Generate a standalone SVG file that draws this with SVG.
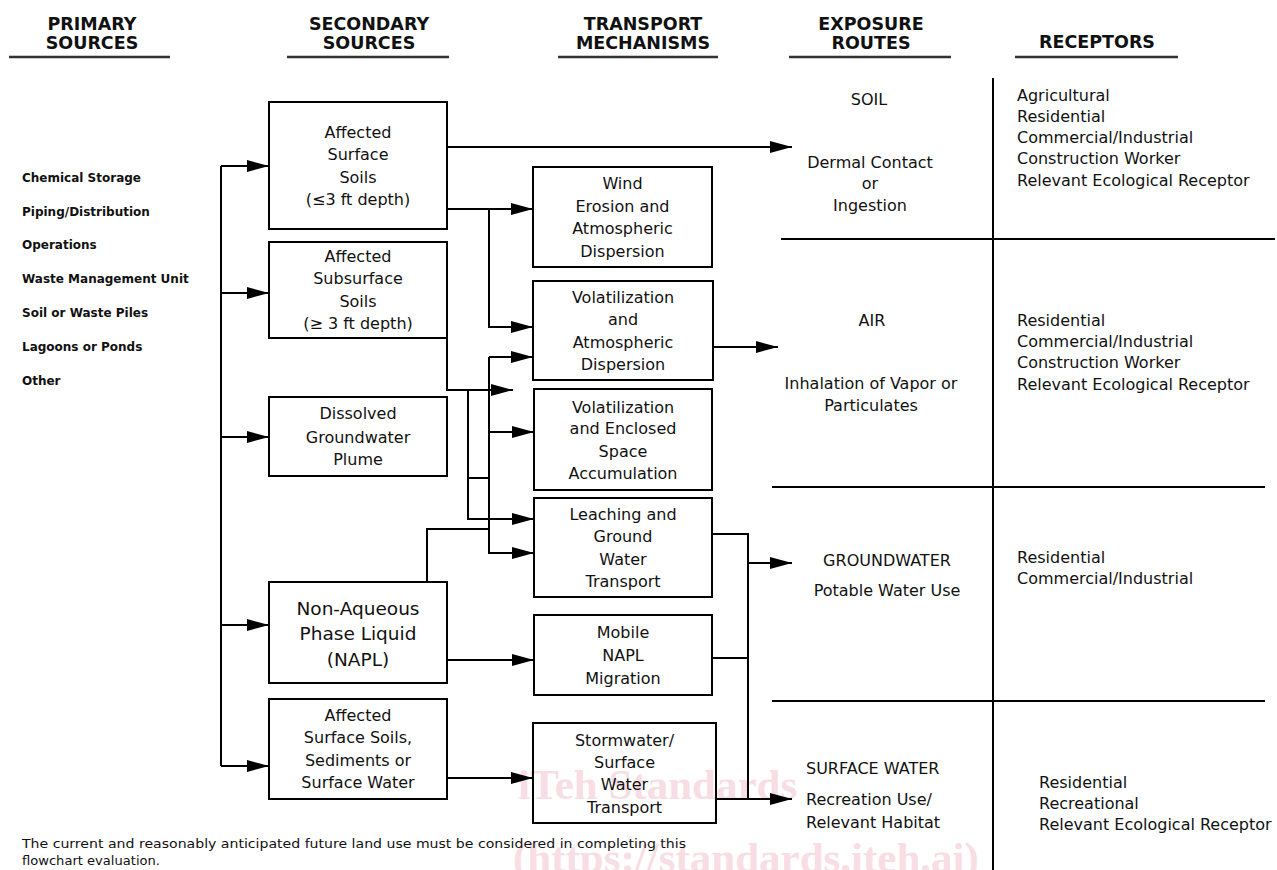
<svg xmlns="http://www.w3.org/2000/svg" width="1277" height="870" viewBox="0 0 1277 870">
<defs>
<style>
.box{fill:none;stroke:#000;stroke-width:2}
.t{font-family:"DejaVu Sans",Verdana,sans-serif;font-size:16px;fill:#111;text-anchor:middle}
.tl{font-family:"DejaVu Sans",Verdana,sans-serif;font-size:16px;fill:#111}
.big{font-size:18.5px}
.hd{font-family:"DejaVu Sans",Verdana,sans-serif;font-weight:bold;font-size:17.5px;fill:#111;text-anchor:middle}
.src{font-family:"DejaVu Sans",Verdana,sans-serif;font-weight:bold;font-size:12px;fill:#111}
.note{font-family:"DejaVu Sans",Verdana,sans-serif;font-size:13px;fill:#111}
.c{fill:none;stroke:#000;stroke-width:2}
.a{marker-end:url(#ah)}
.ul{stroke:#333;stroke-width:2.5}
.rl{stroke:#000;stroke-width:2}
.wm{font-family:"Liberation Serif",serif;font-weight:bold;font-size:43px;fill:#f8dde4}
</style>
<marker id="ah" markerUnits="userSpaceOnUse" markerWidth="22" markerHeight="12" refX="22" refY="6" orient="auto">
<path d="M0,0L22,6L0,12z" fill="#000"/>
</marker>
</defs>
<rect width="1277" height="870" fill="#fff"/>
<g id="watermark">
<text class="wm" x="518" y="799">iTeh Standards</text>
<text class="wm" x="513" y="872">(https://standards.iteh.ai)</text>
</g>
<g id="headers">
<text class="hd" x="92" y="29.5">PRIMARY</text>
<text class="hd" x="92" y="48.5">SOURCES</text>
<text class="hd" x="369" y="29.5">SECONDARY</text>
<text class="hd" x="369" y="48.5">SOURCES</text>
<text class="hd" x="643" y="29.5">TRANSPORT</text>
<text class="hd" x="643" y="48.5">MECHANISMS</text>
<text class="hd" x="871" y="29.5">EXPOSURE</text>
<text class="hd" x="871" y="48.5">ROUTES</text>
<text class="hd" x="1097" y="47.5">RECEPTORS</text>
<line class="ul" x1="9" y1="57" x2="170" y2="57"/>
<line class="ul" x1="287" y1="57" x2="449" y2="57"/>
<line class="ul" x1="558" y1="57" x2="718" y2="57"/>
<line class="ul" x1="789" y1="57" x2="951" y2="57"/>
<line class="ul" x1="1015" y1="57" x2="1178" y2="57"/>
</g>
<g id="primary-sources">
<text class="src" x="22" y="181.5">Chemical Storage</text>
<text class="src" x="22" y="215.5">Piping/Distribution</text>
<text class="src" x="22" y="248.5">Operations</text>
<text class="src" x="22" y="282.5">Waste Management Unit</text>
<text class="src" x="22" y="316.5">Soil or Waste Piles</text>
<text class="src" x="22" y="350.5">Lagoons or Ponds</text>
<text class="src" x="22" y="384.5">Other</text>
</g>
<g id="n-surface-soils">
<rect class="box" x="269" y="102" width="178" height="127"/>
<text class="t" x="358" y="138">Affected</text>
<text class="t" x="358" y="160">Surface</text>
<text class="t" x="358" y="183">Soils</text>
<text class="t" x="358" y="205">(≤3 ft depth)</text>
</g>
<g id="n-subsurface-soils">
<rect class="box" x="269" y="242" width="178" height="96"/>
<text class="t" x="358" y="262">Affected</text>
<text class="t" x="358" y="284">Subsurface</text>
<text class="t" x="358" y="307">Soils</text>
<text class="t" x="358" y="329">(≥ 3 ft depth)</text>
</g>
<g id="n-groundwater-plume">
<rect class="box" x="269" y="397" width="178" height="79"/>
<text class="t" x="358" y="419">Dissolved</text>
<text class="t" x="358" y="443">Groundwater</text>
<text class="t" x="358" y="465">Plume</text>
</g>
<g id="n-napl">
<rect class="box" x="269" y="582" width="178" height="101"/>
<text class="t big" x="358" y="615">Non-Aqueous</text>
<text class="t big" x="358" y="640">Phase Liquid</text>
<text class="t big" x="358" y="666">(NAPL)</text>
</g>
<g id="n-surface-water-sources">
<rect class="box" x="269" y="699" width="178" height="100"/>
<text class="t" x="358" y="721">Affected</text>
<text class="t" x="358" y="743">Surface Soils,</text>
<text class="t" x="358" y="766">Sediments or</text>
<text class="t" x="358" y="788">Surface Water</text>
</g>
<g id="n-wind">
<rect class="box" x="533" y="167" width="179" height="100"/>
<text class="t" x="622.5" y="189">Wind</text>
<text class="t" x="622.5" y="212">Erosion and</text>
<text class="t" x="622.5" y="234">Atmospheric</text>
<text class="t" x="622.5" y="257">Dispersion</text>
</g>
<g id="n-volatilization-atm">
<rect class="box" x="533" y="281" width="180" height="99"/>
<text class="t" x="623" y="303">Volatilization</text>
<text class="t" x="623" y="325">and</text>
<text class="t" x="623" y="348">Atmospheric</text>
<text class="t" x="623" y="370">Dispersion</text>
</g>
<g id="n-volatilization-enclosed">
<rect class="box" x="534" y="389" width="178" height="101"/>
<text class="t" x="623" y="413">Volatilization</text>
<text class="t" x="623" y="434">and Enclosed</text>
<text class="t" x="623" y="457">Space</text>
<text class="t" x="623" y="479">Accumulation</text>
</g>
<g id="n-leaching">
<rect class="box" x="534" y="498" width="178" height="99"/>
<text class="t" x="623" y="520">Leaching and</text>
<text class="t" x="623" y="542">Ground</text>
<text class="t" x="623" y="565">Water</text>
<text class="t" x="623" y="587">Transport</text>
</g>
<g id="n-mobile-napl">
<rect class="box" x="534" y="615" width="178" height="80"/>
<text class="t" x="623" y="638">Mobile</text>
<text class="t" x="623" y="661">NAPL</text>
<text class="t" x="623" y="684">Migration</text>
</g>
<g id="n-stormwater">
<rect class="box" x="533" y="723" width="183" height="100"/>
<text class="t" x="624.5" y="746">Stormwater/</text>
<text class="t" x="624.5" y="768">Surface</text>
<text class="t" x="624.5" y="790">Water</text>
<text class="t" x="624.5" y="813">Transport</text>
</g>
<g id="connectors">
<path class="c" d="M221,166V766"/>
<path class="c a" d="M221,166H269"/>
<path class="c a" d="M221,293H269"/>
<path class="c a" d="M221,437H269"/>
<path class="c a" d="M221,625H269"/>
<path class="c a" d="M221,766H269"/>
<path class="c a" d="M447,147H792"/>
<path class="c a" d="M447,209H533"/>
<path class="c a" d="M489,209V327H533"/>
<path class="c a" d="M447,338V390H513"/>
<path class="c a" d="M489,357V553H534"/>
<path class="c a" d="M489,357H533"/>
<path class="c a" d="M489,432H534"/>
<path class="c a" d="M468,390V519H534"/>
<path class="c" d="M468,478H489"/>
<path class="c" d="M427,582V529H489"/>
<path class="c a" d="M713,347H778"/>
<path class="c" d="M712,534H748V799"/>
<path class="c a" d="M748,563H792"/>
<path class="c" d="M712,658H748"/>
<path class="c a" d="M716,799H792"/>
<path class="c a" d="M447,660H534"/>
<path class="c a" d="M447,778H533"/>
</g>
<g id="exposure-table">
<line class="rl" x1="993" y1="78" x2="993" y2="870"/>
<line class="rl" x1="781" y1="239" x2="1275" y2="239"/>
<line class="rl" x1="772" y1="487" x2="1265" y2="487"/>
<line class="rl" x1="772" y1="701" x2="1265" y2="701"/>
</g>
<g id="n-soil">
<text class="t" x="869" y="105">SOIL</text>
<text class="t" x="870" y="168">Dermal Contact</text>
<text class="t" x="870" y="189">or</text>
<text class="t" x="870" y="211">Ingestion</text>
</g>
<g id="n-soil-receptors">
<text class="tl" x="1017" y="101">Agricultural</text>
<text class="tl" x="1017" y="122">Residential</text>
<text class="tl" x="1017" y="143">Commercial/Industrial</text>
<text class="tl" x="1017" y="164">Construction Worker</text>
<text class="tl" x="1017" y="186">Relevant Ecological Receptor</text>
</g>
<g id="n-air">
<text class="t" x="872" y="326">AIR</text>
<text class="t" x="871" y="389">Inhalation of Vapor or</text>
<text class="t" x="871" y="411">Particulates</text>
</g>
<g id="n-air-receptors">
<text class="tl" x="1017" y="326">Residential</text>
<text class="tl" x="1017" y="347">Commercial/Industrial</text>
<text class="tl" x="1017" y="368">Construction Worker</text>
<text class="tl" x="1017" y="390">Relevant Ecological Receptor</text>
</g>
<g id="n-groundwater">
<text class="t" x="887" y="566">GROUNDWATER</text>
<text class="t" x="887" y="596">Potable Water Use</text>
</g>
<g id="n-groundwater-receptors">
<text class="tl" x="1017" y="563">Residential</text>
<text class="tl" x="1017" y="584">Commercial/Industrial</text>
</g>
<g id="n-surface-water">
<text class="tl" x="806" y="774">SURFACE WATER</text>
<text class="tl" x="806" y="805">Recreation Use/</text>
<text class="tl" x="806" y="828">Relevant Habitat</text>
</g>
<g id="n-surface-water-receptors">
<text class="tl" x="1039" y="788">Residential</text>
<text class="tl" x="1039" y="809">Recreational</text>
<text class="tl" x="1039" y="830">Relevant Ecological Receptor</text>
</g>
<g id="note">
<text class="note" x="22" y="848" textLength="664" lengthAdjust="spacingAndGlyphs">The current and reasonably anticipated future land use must be considered in completing this</text>
<text class="note" x="22" y="865" textLength="138" lengthAdjust="spacingAndGlyphs">flowchart evaluation.</text>
</g>
</svg>
